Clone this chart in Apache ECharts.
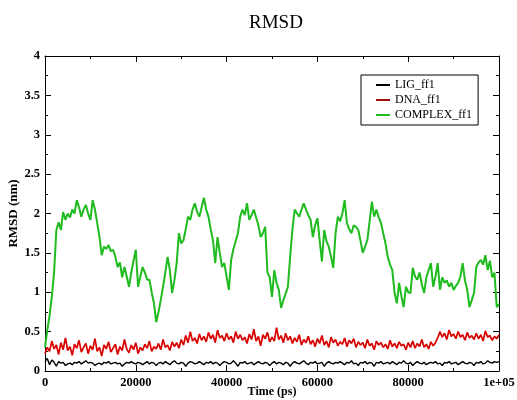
<!DOCTYPE html>
<html>
<head>
<meta charset="utf-8">
<script src="https://cdn.jsdelivr.net/npm/echarts@6/dist/echarts.min.js"></script>
<style>html,body{margin:0;padding:0;background:#fff;}#chart{width:517px;height:400px;}</style>
</head>
<body>
<div id="chart"></div>
<script>
// sampling step of the trajectories (ps)
const timeStep = 500;
const seriesNames = ['LIG_ff1', 'DNA_ff1', 'COMPLEX_ff1'];
const xTicks = [0, 20000, 40000, 60000, 80000, 100000];
const xTickLabels = ['0', '20000', '40000', '60000', '80000', '1e+05'];
const yTickLabels = ['0', '0.5', '1', '1.5', '2', '2.5', '3', '3.5', '4'];

const lig = [
0.12,0.16,0.08,0.14,0.11,0.06,0.12,0.10,0.11,0.07,
0.09,0.10,0.08,0.11,0.10,0.12,0.09,0.11,0.13,0.10,
0.11,0.10,0.07,0.09,0.10,0.08,0.11,0.10,0.12,0.09,
0.10,0.11,0.09,0.10,0.06,0.09,0.11,0.10,0.12,0.10,
0.09,0.11,0.10,0.08,0.10,0.12,0.09,0.11,0.10,0.07,
0.10,0.11,0.09,0.12,0.10,0.08,0.11,0.13,0.10,0.09,
0.11,0.10,0.06,0.10,0.12,0.11,0.09,0.10,0.12,0.10,
0.08,0.11,0.10,0.12,0.09,0.11,0.10,0.07,0.10,0.12,
0.11,0.09,0.10,0.13,0.10,0.06,0.11,0.10,0.12,0.09,
0.10,0.11,0.08,0.10,0.12,0.10,0.09,0.11,0.10,0.07,
0.10,0.12,0.09,0.11,0.10,0.08,0.11,0.10,0.06,0.10,
0.12,0.10,0.09,0.11,0.13,0.10,0.08,0.11,0.10,0.12,
0.09,0.10,0.11,0.06,0.10,0.12,0.10,0.09,0.11,0.10,
0.12,0.10,0.08,0.11,0.10,0.13,0.09,0.10,0.07,0.11,
0.10,0.12,0.09,0.11,0.10,0.06,0.11,0.10,0.12,0.09,
0.10,0.11,0.09,0.12,0.10,0.08,0.11,0.10,0.13,0.10,
0.09,0.11,0.07,0.10,0.12,0.10,0.09,0.11,0.08,0.10,
0.11,0.10,0.12,0.09,0.10,0.07,0.11,0.10,0.12,0.09,
0.10,0.11,0.08,0.10,0.12,0.10,0.09,0.11,0.10,0.07,
0.11,0.10,0.12,0.09,0.10,0.13,0.11,0.10,0.12,0.11,
0.12];

const dna = [
0.22,0.30,0.25,0.38,0.28,0.33,0.21,0.36,0.27,0.42,
0.26,0.31,0.20,0.34,0.29,0.39,0.24,0.30,0.35,0.22,
0.32,0.27,0.41,0.25,0.30,0.19,0.33,0.28,0.37,0.24,
0.29,0.34,0.21,0.31,0.26,0.40,0.28,0.23,0.33,0.27,
0.36,0.22,0.30,0.26,0.34,0.29,0.38,0.25,0.31,0.28,
0.35,0.27,0.40,0.30,0.33,0.26,0.37,0.31,0.36,0.29,
0.40,0.33,0.45,0.36,0.50,0.38,0.42,0.35,0.47,0.39,
0.44,0.37,0.49,0.41,0.46,0.36,0.52,0.42,0.45,0.38,
0.48,0.40,0.44,0.36,0.50,0.41,0.46,0.39,0.43,0.35,
0.47,0.40,0.53,0.38,0.44,0.32,0.46,0.41,0.49,0.37,
0.43,0.38,0.55,0.40,0.45,0.36,0.48,0.39,0.44,0.35,
0.42,0.37,0.46,0.33,0.40,0.36,0.44,0.34,0.39,0.31,
0.41,0.35,0.45,0.33,0.38,0.30,0.43,0.36,0.40,0.32,
0.37,0.34,0.42,0.31,0.39,0.35,0.41,0.30,0.37,0.33,
0.36,0.29,0.40,0.32,0.35,0.27,0.38,0.33,0.36,0.30,
0.34,0.28,0.39,0.31,0.35,0.29,0.37,0.32,0.34,0.27,
0.36,0.30,0.38,0.29,0.35,0.31,0.40,0.30,0.34,0.28,
0.37,0.32,0.36,0.42,0.50,0.43,0.48,0.40,0.52,0.44,
0.47,0.41,0.50,0.43,0.46,0.39,0.49,0.42,0.45,0.40,
0.48,0.41,0.46,0.38,0.51,0.43,0.45,0.39,0.44,0.41,
0.46];

const complex = [
0.30,0.52,0.70,0.94,1.25,1.79,1.89,1.79,2.02,1.92,
2.00,1.95,2.05,2.00,2.17,2.08,1.96,2.05,2.11,2.00,
1.92,2.17,2.05,1.88,1.70,1.47,1.58,1.55,1.60,1.52,
1.54,1.45,1.32,1.38,1.19,1.32,1.20,1.07,1.25,1.40,
1.54,1.07,1.20,1.32,1.25,1.16,1.16,1.00,0.86,0.62,
0.75,0.90,1.07,1.25,1.45,1.28,0.99,1.15,1.37,1.75,
1.62,1.66,1.80,1.96,1.92,2.05,2.13,2.02,1.96,2.08,
2.20,2.05,1.96,1.80,1.66,1.37,1.70,1.50,1.32,1.37,
1.20,1.03,1.41,1.55,1.65,1.75,1.96,2.05,1.98,2.13,
1.92,1.98,2.05,1.95,1.85,1.70,1.75,1.83,1.25,1.19,
0.94,1.28,1.12,1.03,0.80,0.90,0.98,1.07,1.45,1.80,
2.05,2.00,1.96,2.05,2.13,2.05,1.98,1.92,1.70,1.85,
1.94,1.66,1.39,1.79,1.65,1.58,1.45,1.31,1.75,1.96,
1.90,2.00,2.17,1.88,1.80,1.75,1.85,1.83,1.79,1.65,
1.50,1.58,1.66,1.90,2.15,1.96,2.05,1.95,1.88,1.75,
1.62,1.45,1.35,1.28,0.99,0.86,1.12,0.95,0.81,1.07,
1.00,0.99,1.31,1.20,1.16,1.25,1.10,0.99,1.19,1.28,
1.37,1.07,1.20,1.37,1.03,1.19,1.12,1.15,1.07,1.12,
1.03,1.08,1.12,1.20,1.37,1.15,1.03,0.81,0.90,0.99,
1.32,1.38,1.41,1.35,1.47,1.28,1.40,1.19,1.25,0.81,
0.85];

const times = lig.map((_, i) => i * timeStep);
const pairs = arr => arr.map((v, i) => [times[i], v]);

const FONT = '"Liberation Serif", "DejaVu Serif", serif';
const chart = echarts.init(document.getElementById('chart'), null, {renderer: 'canvas'});

const tick = () => ({show: true, inside: true, length: 6, lineStyle: {color: '#000', width: 1}});
const minor = () => ({show: true, splitNumber: 2, length: 3, lineStyle: {color: '#000', width: 1}});
const line = () => ({show: true, onZero: false, lineStyle: {color: '#000', width: 1}});

chart.setOption({
  animation: false,
  backgroundColor: '#fff',
  title: {
    text: 'RMSD', left: 244, top: 9,
    textStyle: {fontFamily: FONT, fontSize: 19, fontWeight: 'normal', color: '#000'}
  },
  legend: {
    orient: 'vertical', left: 361, top: 75,
    width: 118,
    backgroundColor: '#fff', borderColor: '#000', borderWidth: 1,
    padding: [4, 6, 4, 15],
    itemGap: 3, itemWidth: 14, itemHeight: 2,
    icon: 'rect',
    textStyle: {fontFamily: FONT, fontSize: 12, color: '#000'},
    data: seriesNames
  },
  grid: {left: 45, right: 18, top: 56, bottom: 29, containLabel: false, outerBoundsMode: 'none'},
  xAxis: [{
    type: 'value', min: 0, max: 100000, interval: 20000,
    name: 'Time (ps)', nameLocation: 'middle', nameGap: 15, nameMoveOverlap: false,
    nameTextStyle: {fontFamily: FONT, fontSize: 12, fontWeight: 'bold', color: '#000', verticalAlign: 'top'},
    axisLine: line(), axisTick: tick(), minorTick: minor(),
    splitLine: {show: false},
    axisLabel: {
      margin: 5, fontFamily: FONT, fontSize: 12.5, fontWeight: 'bold', color: '#000',
      formatter: v => { const k = xTicks.indexOf(v); return k >= 0 ? xTickLabels[k] : ''; }
    }
  }, {
    type: 'value', position: 'top', min: 0, max: 100000, interval: 20000,
    axisLine: line(), axisTick: tick(), minorTick: minor(),
    splitLine: {show: false}, axisLabel: {show: false}
  }],
  yAxis: [{
    type: 'value', min: 0, max: 4, interval: 0.5,
    name: 'RMSD (nm)', nameLocation: 'middle', nameGap: 25, nameMoveOverlap: false,
    nameTextStyle: {fontFamily: FONT, fontSize: 13, fontWeight: 'bold', color: '#000'},
    axisLine: line(), axisTick: tick(), minorTick: minor(),
    splitLine: {show: false},
    axisLabel: {
      margin: 5, fontFamily: FONT, fontSize: 12.5, fontWeight: 'bold', color: '#000',
      formatter: v => yTickLabels[Math.round(v / 0.5)] || ''
    }
  }, {
    type: 'value', position: 'right', min: 0, max: 4, interval: 0.5,
    axisLine: line(), axisTick: tick(), minorTick: minor(),
    splitLine: {show: false}, axisLabel: {show: false}
  }],
  series: [
    {name: seriesNames[0], type: 'line', data: pairs(lig), showSymbol: false, symbol: 'none',
     color: '#000', lineStyle: {color: '#000', width: 1.4}, z: 4},
    {name: seriesNames[1], type: 'line', data: pairs(dna), showSymbol: false, symbol: 'none',
     color: '#a01010', lineStyle: {color: '#d80000', width: 1.7}, z: 3},
    {name: seriesNames[2], type: 'line', data: pairs(complex), showSymbol: false, symbol: 'none',
     color: '#22bb22', lineStyle: {color: '#1fbb1f', width: 2}, z: 2}
  ]
});
</script>
</body>
</html>
